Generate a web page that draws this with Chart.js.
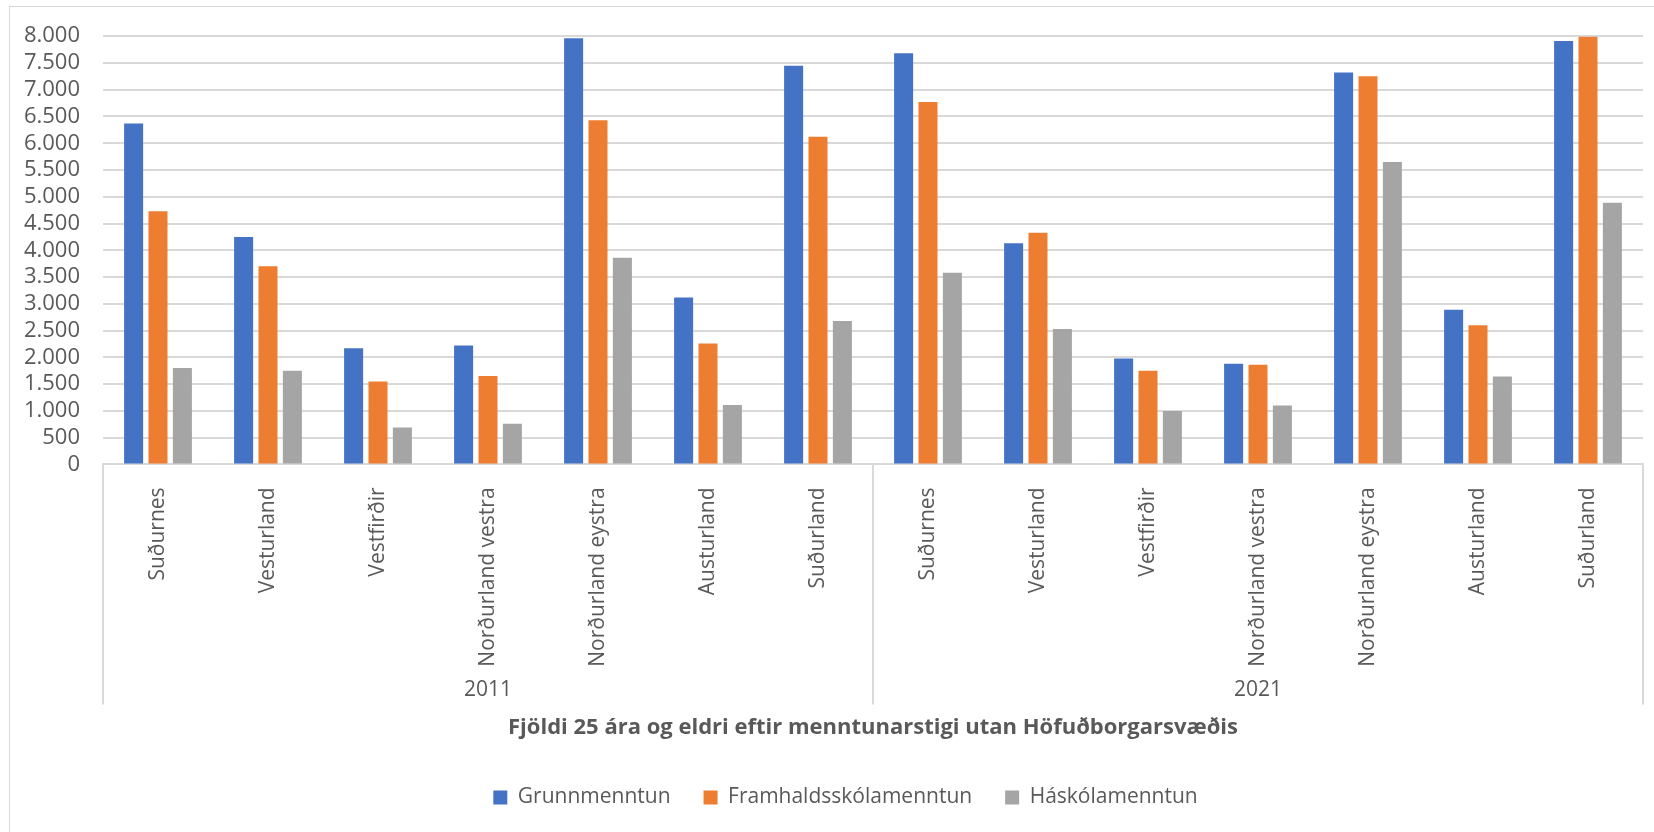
<!DOCTYPE html>
<html>
<head>
<meta charset="utf-8">
<script src="https://cdn.jsdelivr.net/npm/chart.js@4"></script>
<style>
  html, body { margin: 0; padding: 0; background: #fff; overflow: hidden; }
  .wrap { position: relative; width: 1654px; height: 832px; }
  .frame { position: absolute; left: 9px; top: 6px; width: 2000px; height: 2000px; border: 1px solid #d9d9d9; pointer-events: none; }
  canvas { position: absolute; left: 0; top: 0; }
</style>
</head>
<body>
<div class="wrap">
  <canvas id="chart" width="1654" height="832"></canvas>
  <div class="frame"></div>
</div>
<script>
const regions = ['Suðurnes', 'Vesturland', 'Vestfirðir', 'Norðurland vestra', 'Norðurland eystra', 'Austurland', 'Suðurland'];
const years = ['2011', '2021'];
const seriesNames = ['Grunnmenntun', 'Framhaldsskólamenntun', 'Háskólamenntun'];
const seriesColors = ['#4472C4', '#ED7D31', '#A5A5A5'];

// 2011 first, then 2021
const grunn = [6370, 4250, 2170, 2220, 7960, 3120, 7450, 7680, 4130, 1980, 1880, 7320, 2890, 7910];
const framhalds = [4730, 3700, 1550, 1650, 6430, 2260, 6120, 6770, 4330, 1750, 1860, 7250, 2600, 7990];
const haskola = [1800, 1750, 690, 760, 3860, 1110, 2680, 3580, 2530, 1000, 1100, 5650, 1640, 4890];

const yTicksMax = 8000;
const yTicksStep = 500;
const titleText = 'Fjöldi 25 ára og eldri eftir menntunarstigi utan Höfuðborgarsvæðis';

const FONT = "'Open Sans', sans-serif";
const TEXT = '#595959';
const GRID = '#d9d9d9';

let labels = [];
years.forEach(() => { labels = labels.concat(regions); });

const values = [grunn, framhalds, haskola];
const datasets = seriesNames.map((name, i) => ({
  label: name,
  data: values[i],
  backgroundColor: seriesColors[i],
  borderWidth: 0,
  categoryPercentage: 0.665,
  barPercentage: 0.78,
  xAxisID: 'x',
}));

function fmt(v) {
  return String(v).replace(/\B(?=(\d{3})+(?!\d))/g, '.');
}

// group separators under the axis, legend nudge
const separators = {
  id: 'separators',
  afterLayout(chart) {
    chart.legend.left += 19;
    chart.legend.right += 19;
  },
  afterDraw(chart) {
    const x = chart.scales.x;
    const x2 = chart.scales.x2;
    const ctx = chart.ctx;
    const half = (x.getPixelForValue(1) - x.getPixelForValue(0)) / 2;
    const yTop = chart.chartArea.bottom;
    const yEnd = x2.top + 35;
    const edges = [x.getPixelForValue(0) - half];
    let n = 0;
    years.forEach(() => {
      n += regions.length;
      edges.push(x.getPixelForValue(n - 1) + half);
    });
    ctx.save();
    ctx.strokeStyle = GRID;
    ctx.lineWidth = 2;
    edges.forEach(px => {
      ctx.beginPath();
      ctx.moveTo(px, yTop);
      ctx.lineTo(px, yEnd);
      ctx.stroke();
    });
    ctx.restore();
  }
};

new Chart(document.querySelector('#chart'), {
  type: 'bar',
  data: { labels: labels, datasets: datasets },
  options: {
    responsive: false,
    animation: false,
    layout: { padding: { left: 10, right: 11, top: 19, bottom: 14 } },
    plugins: {
      legend: {
        position: 'bottom',
        labels: {
          color: TEXT,
          font: { family: FONT, size: 21 },
          boxWidth: 14,
          boxHeight: 14,
          padding: 33,
        }
      },
      tooltip: { enabled: false },
    },
    scales: {
      y: {
        min: 0,
        max: yTicksMax,
        ticks: {
          stepSize: yTicksStep,
          maxTicksLimit: 30,
          autoSkip: false,
          color: TEXT,
          font: { family: FONT, size: 22 },
          padding: 23,
          callback: v => fmt(v),
        },
        grid: { color: GRID, lineWidth: 2, drawTicks: false },
        border: { display: false },
        afterFit: s => { s.width = 93; },
      },
      x: {
        type: 'category',
        position: 'bottom',
        weight: 0,
        offset: true,
        ticks: {
          color: TEXT,
          font: { family: FONT, size: 21 },
          minRotation: 90,
          maxRotation: 90,
          autoSkip: false,
          padding: 15,
        },
        grid: { display: false },
        border: { display: true, color: GRID, width: 2 },
        afterFit: s => { s.height = 205; },
      },
      x2: {
        type: 'category',
        position: 'bottom',
        weight: 1,
        labels: years,
        offset: true,
        ticks: {
          color: TEXT,
          font: { family: FONT, size: 21 },
          padding: 0,
          maxRotation: 0,
        },
        grid: { display: false },
        border: { display: false },
        title: {
          display: true,
          text: titleText,
          color: TEXT,
          font: { family: FONT, size: 22, weight: 'bold' },
          padding: { top: 12, bottom: 13 },
        },
      },
    },
  },
  plugins: [separators],
});
</script>
</body>
</html>
